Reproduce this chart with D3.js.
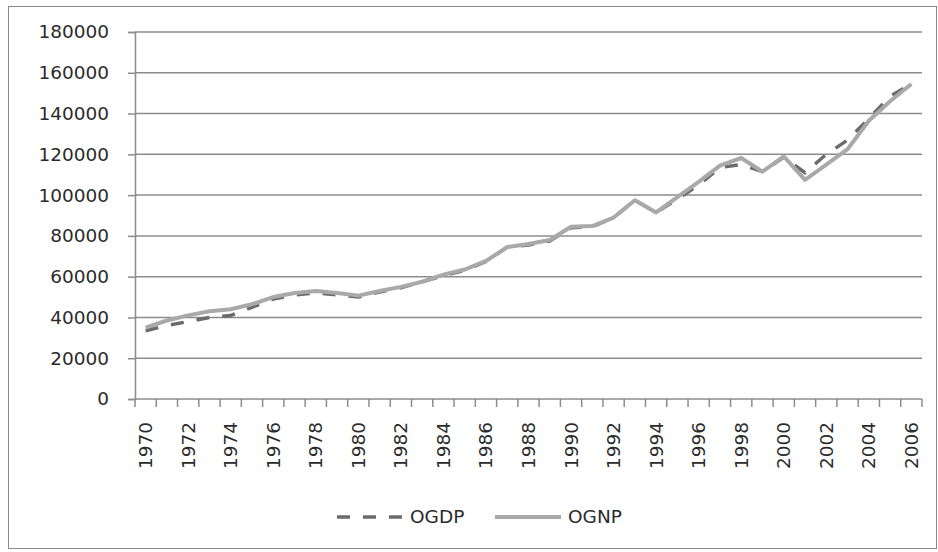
<!DOCTYPE html>
<html>
<head>
<meta charset="utf-8">
<script src="https://cdn.jsdelivr.net/npm/d3@7"></script>
<style>
  body { margin: 0; background: #fff; }
  text { font-family: "DejaVu Sans", Verdana, sans-serif; fill: #2b2b2b; }
</style>
</head>
<body>
<div id="chart"></div>
<script>
const years = d3.range(1970, 2007);
const ogdp = [33500, 36000, 38000, 40000, 41000, 45000, 49000, 51000, 52000, 51000,
              50000, 52500, 54500, 57500, 60500, 63000, 67500, 74500, 75500, 77500,
              84000, 84500, 89000, 97500, 91500, 98000, 105000, 113500, 115000, 111500,
              118500, 111000, 120000, 127000, 137500, 148500, 154500];
const ognp = [35000, 38500, 41000, 43000, 44000, 46500, 50000, 52000, 53000, 52000,
              50700, 53000, 55000, 57500, 61000, 63500, 67700, 74500, 76000, 78000,
              84500, 84800, 89000, 97500, 91500, 99000, 106500, 114500, 118200, 111500,
              119000, 107500, 115000, 122500, 136500, 146000, 154500];
const yTicks = [0, 20000, 40000, 60000, 80000, 100000, 120000, 140000, 160000, 180000];
const seriesNames = ["OGDP", "OGNP"];

const W = 938, H = 552;
const plot = {left: 135, right: 922, top: 32, bottom: 399};

const svg = d3.select("#chart").append("svg")
    .attr("width", W)
    .attr("height", H);

// outer frame
svg.append("rect")
    .attr("x", 8.5).attr("y", 6.5)
    .attr("width", 928).attr("height", 542)
    .attr("fill", "#fff")
    .attr("stroke", "#8a8a8a");

const x = d3.scaleBand().domain(years).range([plot.left, plot.right]);
const y = d3.scaleLinear().domain([0, 180000]).range([plot.bottom, plot.top]);

// gridlines
svg.append("g")
    .selectAll("line")
    .data(yTicks.filter(d => d > 0))
    .enter().append("line")
    .attr("x1", plot.left).attr("x2", plot.right)
    .attr("y1", d => y(d)).attr("y2", d => y(d))
    .attr("stroke", "#8c8c8c")
    .attr("stroke-width", 1.5);

// y axis
const yAxis = svg.append("g")
    .attr("transform", "translate(" + plot.left + ",0)")
    .call(d3.axisLeft(y).tickValues(yTicks).tickSize(7).tickPadding(19).tickFormat(d3.format("d")));
yAxis.select(".domain").attr("stroke", "#8c8c8c").attr("stroke-width", 1.5);
yAxis.selectAll(".tick line").attr("stroke", "#8c8c8c").attr("stroke-width", 1.5);
yAxis.selectAll("text")
    .style("font-size", "18.5px")
    .style("font-family", "DejaVu Sans, Verdana, sans-serif")
    .attr("fill", "#2b2b2b");

// x axis: ticks between categories, labels every other year
const xg = svg.append("g")
    .attr("transform", "translate(0," + plot.bottom + ")");
xg.append("line")
    .attr("x1", plot.left).attr("x2", plot.right)
    .attr("stroke", "#8c8c8c").attr("stroke-width", 1.5);
xg.selectAll("line.tick")
    .data(years.concat([2007]))
    .enter().append("line")
    .attr("class", "tick")
    .attr("x1", d => d === 2007 ? plot.right : x(d))
    .attr("x2", d => d === 2007 ? plot.right : x(d))
    .attr("y1", 0).attr("y2", 8)
    .attr("stroke", "#8c8c8c").attr("stroke-width", 1.5);
xg.selectAll("text")
    .data(years.filter(d => d % 2 === 0))
    .enter().append("text")
    .attr("transform", d => "translate(" + (x(d) + x.bandwidth() / 2) + ",23)rotate(-90)")
    .attr("text-anchor", "end")
    .attr("dy", "0.35em")
    .style("font-size", "18.5px")
    .text(d => d);

const line = d3.line()
    .x((d, i) => x(years[i]) + x.bandwidth() / 2)
    .y(d => y(d));

svg.append("path")
    .datum(ogdp)
    .attr("fill", "none")
    .attr("stroke", "#6b6b6b")
    .attr("stroke-width", 3.5)
    .attr("stroke-dasharray", "13,13")
    .attr("d", line);

svg.append("path")
    .datum(ognp)
    .attr("fill", "none")
    .attr("stroke", "#a9a9a9")
    .attr("stroke-width", 4)
    .attr("stroke-linejoin", "round")
    .attr("d", line);

// legend
const legend = svg.append("g").attr("transform", "translate(0,517)");
const legendItems = [
    {name: seriesNames[0], x0: 337, color: "#6b6b6b", dash: "13,13", w: 3.5},
    {name: seriesNames[1], x0: 495, color: "#a9a9a9", dash: null, w: 4}
];
legendItems.forEach(function(d) {
    legend.append("line")
        .attr("x1", d.x0).attr("x2", d.x0 + 66)
        .attr("stroke", d.color)
        .attr("stroke-width", d.w)
        .attr("stroke-dasharray", d.dash);
    legend.append("text")
        .attr("x", d.x0 + 73)
        .attr("dy", "0.35em")
        .style("font-size", "18.5px")
        .text(d.name);
});
</script>
</body>
</html>
